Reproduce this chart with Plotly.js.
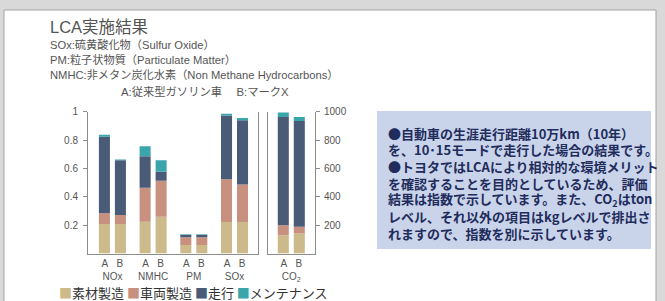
<!DOCTYPE html>
<html>
<head>
<meta charset="utf-8">
<script src="https://cdn.plot.ly/plotly-3.0.1.min.js"></script>
<style>html,body{margin:0;padding:0;background:#d9d9d9;}#chart{width:665px;height:301px;}</style>
</head>
<body>
<div id="chart"></div>
<script>
// ---- data ----
const categories = ['NOx', 'NMHC', 'PM', 'SOx'];
const categoryLabels = ['NOx', 'NMHC', 'PM', 'SOx'];
const co2Category = ['CO2'];
const co2Label = ['CO<sub>2</sub>'];
const vehicles = ['A', 'B'];
const seriesNames = ['素材製造', '車両製造', '走行', 'メンテナンス'];

// index values (left axis), order: NOx, NMHC, PM, SOx
const materialA    = [0.208, 0.224, 0.060, 0.223];
const manufactureA = [0.075, 0.239, 0.055, 0.300];
const drivingA     = [0.540, 0.223, 0.017, 0.450];
const maintenanceA = [0.014, 0.070, 0.003, 0.012];

const materialB    = [0.208, 0.259, 0.060, 0.223];
const manufactureB = [0.063, 0.254, 0.055, 0.263];
const drivingB     = [0.387, 0.063, 0.017, 0.453];
const maintenanceB = [0.005, 0.082, 0.003, 0.016];

// CO2 index (right axis): [素材製造, 車両製造, 走行, メンテナンス]
const co2A = [129, 70, 763, 32];
const co2B = [141, 47, 746, 28];

const leftTicks = [0.2, 0.4, 0.6, 0.8, 1];
const leftTickText = ['0.2', '0.4', '0.6', '0.8', '1'];
const rightTicks = [200, 400, 600, 800, 1000];
const rightTickText = ['200', '400', '600', '800', '1000'];

const titleText = 'LCA実施結果';
const noteLines = [
  'SOx:硫黄酸化物（Sulfur Oxide）',
  'PM:粒子状物質（Particulate Matter）',
  'NMHC:非メタン炭化水素（Non Methane Hydrocarbons）'
];
const vehicleNote = 'A:従来型ガソリン車\u3000 B:マークX';
const boxLines = [
  '●自動車の生涯走行距離10万km（10年）',
  'を、10･15モードで走行した場合の結果です。',
  '●トヨタではLCAにより相対的な環境メリット',
  'を確認することを目的としているため、評価',
  '結果は指数で示しています。また、CO<sub>2</sub>はton',
  'レベル、それ以外の項目はkgレベルで排出さ',
  'れますので、指数を別に示しています。'
];

// ---- styling ----
const colors = ['#cdba8b', '#c8917f', '#4a5b78', '#3aa6ab'];
const W = 665, H = 301;
const px = v => v / W;
const py = v => 1 - v / H;
const axisColor = '#8c8c8c';
const tickFont = {family: 'Liberation Sans, Arial, sans-serif', size: 10, color: '#555'};
const jp = 'Liberation Sans, Noto Sans CJK JP, sans-serif';

const leftSeriesA = [materialA, manufactureA, drivingA, maintenanceA];
const leftSeriesB = [materialB, manufactureB, drivingB, maintenanceB];

const traces = [];
function addStack(seriesList, xcats, group, xa, ya) {
  let base = xcats.map(() => 0);
  seriesList.forEach((vals, i) => {
    traces.push({
      type: 'bar', x: xcats, y: vals, base: base.slice(),
      name: seriesNames[i], offsetgroup: group,
      marker: {color: colors[i], line: {width: 0}},
      xaxis: xa, yaxis: ya, hoverinfo: 'skip', showlegend: false
    });
    base = base.map((b, k) => b + vals[k]);
  });
}
addStack(leftSeriesA, categories, 'A', 'x', 'y');
addStack(leftSeriesB, categories, 'B', 'x', 'y');
addStack(co2A.map(v => [v]), co2Category, 'A', 'x2', 'y2');
addStack(co2B.map(v => [v]), co2Category, 'B', 'x2', 'y2');

const sp = '\u00a0\u00a0\u00a0';
const ticktextLeft = categoryLabels.map(c => vehicles[0] + sp + vehicles[1] + '<br>' + c);
const ticktextRight = co2Label.map(c => vehicles[0] + sp + vehicles[1] + '<br>' + c);

const legendText = seriesNames.map((n, i) =>
  '<span style="color:' + colors[i] + '">■</span>' + n).join(' ');

const annotations = [
  {text: titleText, x: px(49), y: py(27), xanchor: 'left', yanchor: 'middle',
   font: {family: jp, size: 16.5, color: '#555'}},
  ...noteLines.map((t, i) => ({text: t, x: px(49), y: py(44 + i * 15.3), xanchor: 'left', yanchor: 'middle',
   font: {family: jp, size: 11.2, color: '#555'}})),
  {text: vehicleNote, x: px(205), y: py(91), xanchor: 'center', yanchor: 'middle',
   font: {family: jp, size: 11.3, color: '#555'}},
  ...boxLines.map((t, i) => ({text: '<b>' + t + '</b>', x: px(387), y: py(133 + i * 16.7),
   xanchor: 'left', yanchor: 'middle', align: 'left',
   font: {family: 'Noto Sans CJK JP, sans-serif', size: 13, color: '#1f2c5c'}})),
  {text: legendText, x: px(58), y: py(292), xanchor: 'left', yanchor: 'middle',
   font: {family: 'Noto Sans CJK JP, sans-serif', size: 13, color: '#333'}}
];
annotations.forEach(a => { a.xref = 'paper'; a.yref = 'paper'; a.showarrow = false; a.borderpad = 0; });

const layout = {
  width: W, height: H,
  margin: {l: 0, r: 0, t: 0, b: 0},
  paper_bgcolor: '#d9d9d9',
  plot_bgcolor: 'rgba(0,0,0,0)',
  showlegend: false,
  barmode: 'group',
  bargap: 0.214,
  bargroupgap: 0.31,
  xaxis: {
    domain: [px(88), px(258)], range: [-0.6, 3.577], type: 'category',
    showline: true, linecolor: axisColor, linewidth: 1, ticks: '', showgrid: false,
    tickvals: categories, ticktext: ticktextLeft, tickfont: tickFont, anchor: 'y', fixedrange: true
  },
  yaxis: {
    domain: [py(253.5), py(111.7)], range: [0, 1],
    showline: true, mirror: true, linecolor: axisColor, linewidth: 1,
    ticks: 'outside', ticklen: 4, tickcolor: axisColor, showgrid: false, zeroline: false,
    tickvals: leftTicks, ticktext: leftTickText, tickfont: tickFont, anchor: 'x', ticklabelstandoff: 3
  },
  xaxis2: {
    domain: [px(268), px(315)], range: [-0.572, 0.582], type: 'category',
    showline: true, linecolor: axisColor, linewidth: 1, ticks: '', showgrid: false,
    tickvals: co2Category, ticktext: ticktextRight, tickfont: tickFont, anchor: 'y2'
  },
  yaxis2: {
    domain: [py(253.5), py(111.7)], range: [0, 1000], side: 'right', anchor: 'x2',
    showline: true, mirror: true, linecolor: axisColor, linewidth: 1,
    ticks: 'outside', ticklen: 4, tickcolor: axisColor, showgrid: false, zeroline: false,
    tickvals: rightTicks, ticktext: rightTickText, tickfont: tickFont, ticklabelstandoff: 2
  },
  shapes: [
    {type: 'rect', xref: 'paper', yref: 'paper', x0: px(4), x1: px(656), y0: -0.05, y1: py(10),
     fillcolor: '#ffffff', line: {color: '#a3a3a3', width: 1}, layer: 'below'},
    {type: 'rect', xref: 'paper', yref: 'paper', x0: px(377), x1: px(651), y0: py(249), y1: py(111),
     fillcolor: '#c9d4ea', line: {width: 0}, layer: 'below'}
  ],
  annotations: annotations
};

Plotly.newPlot('chart', traces, layout, {displayModeBar: false, staticPlot: true});
</script>
</body>
</html>
